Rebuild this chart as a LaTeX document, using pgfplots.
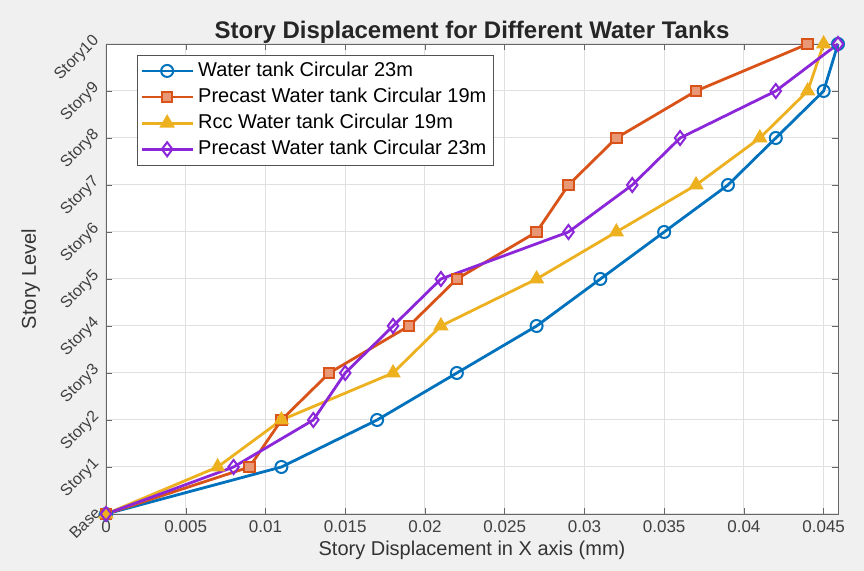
\documentclass[border=0pt]{standalone}
\usepackage{pgfplots}
\pgfplotsset{compat=1.18}
\usepackage{fontspec}
\setmainfont{Liberation Sans}
\definecolor{mblue}{rgb}{0,0.447,0.741}
\definecolor{morange}{rgb}{0.85,0.325,0.098}
\definecolor{myellow}{rgb}{0.929,0.694,0.125}
\definecolor{mpurple}{rgb}{0.55,0.15,0.85}
\definecolor{bgc}{rgb}{0.94,0.94,0.94}
\definecolor{framec}{rgb}{0.15,0.15,0.15}
\begin{document}
\begin{tikzpicture}[x=1pt,y=1pt]
\fill[bgc] (-53,-28.5) rectangle (379,257);
\useasboundingbox (-53,-28.5) rectangle (379,257);
\begin{axis}[
  at={(0,0)}, anchor=south west,
  scale only axis, width=366pt, height=235pt,
  xmin=0, xmax=0.0459, ymin=0, ymax=10,
  clip=false,
  scaled x ticks=false,
  axis background/.style={fill=white},
  axis line style={framec!70},
  xtick={0,0.005,0.01,0.015,0.02,0.025,0.03,0.035,0.04,0.045},
  xticklabels={0,0.005,0.01,0.015,0.02,0.025,0.03,0.035,0.04,0.045},
  ytick={0,1,2,3,4,5,6,7,8,9,10},
  yticklabels={Base,Story1,Story2,Story3,Story4,Story5,Story6,Story7,Story8,Story9,Story10},
  yticklabel style={rotate=45, anchor=south east, xshift=2pt, yshift=-2pt, font=\fontsize{8}{9}\selectfont},
  tick label style={font=\fontsize{8.5}{10}\selectfont, text=black!75},
  /pgf/number format/assume math mode=true,
  tick align=inside, major tick length=3pt,
  tick style={framec!70},
  grid=major, grid style={black!12, line width=0.5pt},
  title={Story Displacement for Different Water Tanks},
  title style={font=\bfseries\fontsize{12}{14}\selectfont, text=black!85, yshift=-9.5pt},
  xlabel={Story Displacement in X axis (mm)},
  ylabel={Story Level},
  label style={font=\fontsize{10}{12}\selectfont, text=black!80},
  xlabel style={yshift=3pt},
  ylabel style={yshift=-2pt},
  legend style={at={(0.042,0.977)}, anchor=north west, draw=framec!80, fill=white,
    font=\fontsize{10}{11}\selectfont, row sep=0.3pt, inner sep=1.5pt},
  legend cell align=left,
  legend image code/.code={\draw[mark repeat=2,mark phase=2] plot coordinates {(0cm,0cm)(0.45cm,0cm)(0.9cm,0cm)};},
  every axis plot/.append style={line width=1.4pt},
]
\addplot[mblue, mark=o, mark size=3pt, mark options={line width=1pt}] coordinates {
(0,0) (0.011,1) (0.017,2) (0.022,3) (0.027,4) (0.031,5) (0.035,6) (0.039,7) (0.042,8) (0.045,9) (0.0459,10)};
\addlegendentry{Water tank Circular 23m}
\addplot[morange, mark=square*, mark size=2.6pt, mark options={line width=1pt, fill=morange!60}] coordinates {
(0,0) (0.009,1) (0.011,2) (0.014,3) (0.019,4) (0.022,5) (0.027,6) (0.029,7) (0.032,8) (0.037,9) (0.044,10)};
\addlegendentry{Precast Water tank Circular 19m}
\addplot[myellow, mark=triangle*, mark size=3.5pt, mark options={line width=1pt, fill=myellow}] coordinates {
(0,0) (0.007,1) (0.011,2) (0.018,3) (0.021,4) (0.027,5) (0.032,6) (0.037,7) (0.041,8) (0.044,9) (0.045,10)};
\addlegendentry{Rcc Water tank Circular 19m}
\addplot[mpurple, mark=diamond, mark size=3.5pt, mark options={line width=1pt}] coordinates {
(0,0) (0.008,1) (0.013,2) (0.015,3) (0.018,4) (0.021,5) (0.029,6) (0.033,7) (0.036,8) (0.042,9) (0.0459,10)};
\addlegendentry{Precast Water tank Circular 23m}
\end{axis}
\end{tikzpicture}
\end{document}
